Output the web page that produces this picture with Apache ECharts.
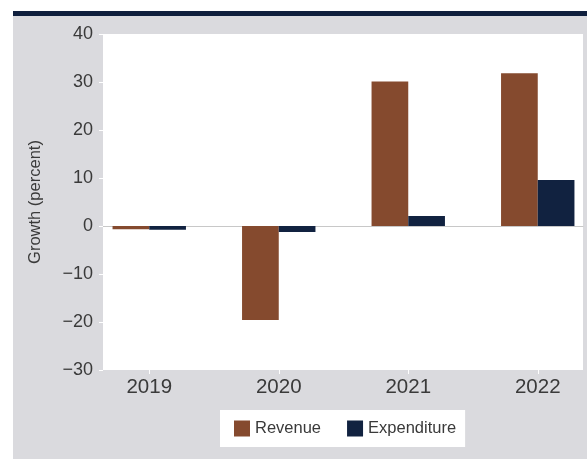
<!DOCTYPE html>
<html><head><meta charset="utf-8">
<script src="https://cdn.jsdelivr.net/npm/echarts@6/dist/echarts.min.js"></script>
<style>html,body{margin:0;padding:0;background:#fff;}#c{width:587px;height:459px;}</style>
</head><body><div id="c"></div>
<script>
const categories = ['2019', '2020', '2021', '2022'];
const revenue = [-0.7, -19.6, 30.1, 31.8];
const expenditure = [-0.8, -1.25, 2.1, 9.6];
const yTicks = [-30, -20, -10, 0, 10, 20, 30, 40];

const chart = echarts.init(document.getElementById('c'), null, {renderer: 'canvas'});
const font = '"Liberation Sans", Arial, sans-serif';
const fmt = v => String(v).replace('-', '\u2212');

chart.setOption({
  backgroundColor: '#ffffff',
  animation: false,
  graphic: [
    {type: 'rect', left: 13, top: 16, shape: {width: 574, height: 443}, style: {fill: '#dadade'}, z: -10},
    {type: 'rect', left: 13, top: 11, shape: {width: 574, height: 5}, style: {fill: '#0f1f3d'}, z: -10}
  ],
  grid: [
    {left: 103, top: 34, width: 480, height: 336, show: true, backgroundColor: '#ffffff', borderWidth: 0,
     containLabel: false, outerBoundsMode: 'none'},
    {left: 84.5, top: 34, width: 518, height: 336, containLabel: false, outerBoundsMode: 'none'}
  ],
  xAxis: [
    {gridIndex: 0, type: 'category', data: categories, axisLabel: {show: false}, axisTick: {show: false},
     axisLine: {show: true, onZero: true, lineStyle: {color: '#c8c8c8', width: 1}}, splitLine: {show: false}},
    {gridIndex: 1, type: 'category', data: categories, position: 'bottom',
     axisLine: {show: false, onZero: false},
     axisTick: {show: true, alignWithLabel: true, length: 4, lineStyle: {color: '#ffffff', width: 1}},
     axisLabel: {color: '#3a3a3a', fontFamily: font, fontSize: 20.5, margin: 7}}
  ],
  yAxis: [
    {gridIndex: 0, type: 'value', min: yTicks[0], max: yTicks[yTicks.length - 1], interval: 10,
     name: 'Growth (percent)', nameLocation: 'middle', nameGap: 59, nameRotate: 90,
     nameTextStyle: {color: '#3a3a3a', fontFamily: font, fontSize: 16.5},
     axisLine: {show: false}, splitLine: {show: false},
     axisTick: {show: true, length: 4, lineStyle: {color: '#ffffff', width: 1}},
     axisLabel: {color: '#3a3a3a', fontFamily: font, fontSize: 18, margin: 10, formatter: fmt}},
    {gridIndex: 1, type: 'value', min: yTicks[0], max: yTicks[yTicks.length - 1], interval: 10,
     show: false, splitLine: {show: false}}
  ],
  legend: {
    left: 220, top: 410, backgroundColor: '#ffffff',
    padding: [10, 9, 10, 14], itemWidth: 16, itemHeight: 16, itemGap: 26,
    icon: 'rect',
    textStyle: {color: '#3a3a3a', fontFamily: font, fontSize: 16.5},
    data: ['Revenue', 'Expenditure']
  },
  series: [
    {name: 'Revenue', type: 'bar', xAxisIndex: 1, yAxisIndex: 1, data: revenue, barWidth: 36.7, barGap: '0%',
     itemStyle: {color: '#854a2e'}},
    {name: 'Expenditure', type: 'bar', xAxisIndex: 1, yAxisIndex: 1, data: expenditure, barWidth: 36.7, barGap: '0%',
     itemStyle: {color: '#112240'}}
  ]
});
</script></body></html>
